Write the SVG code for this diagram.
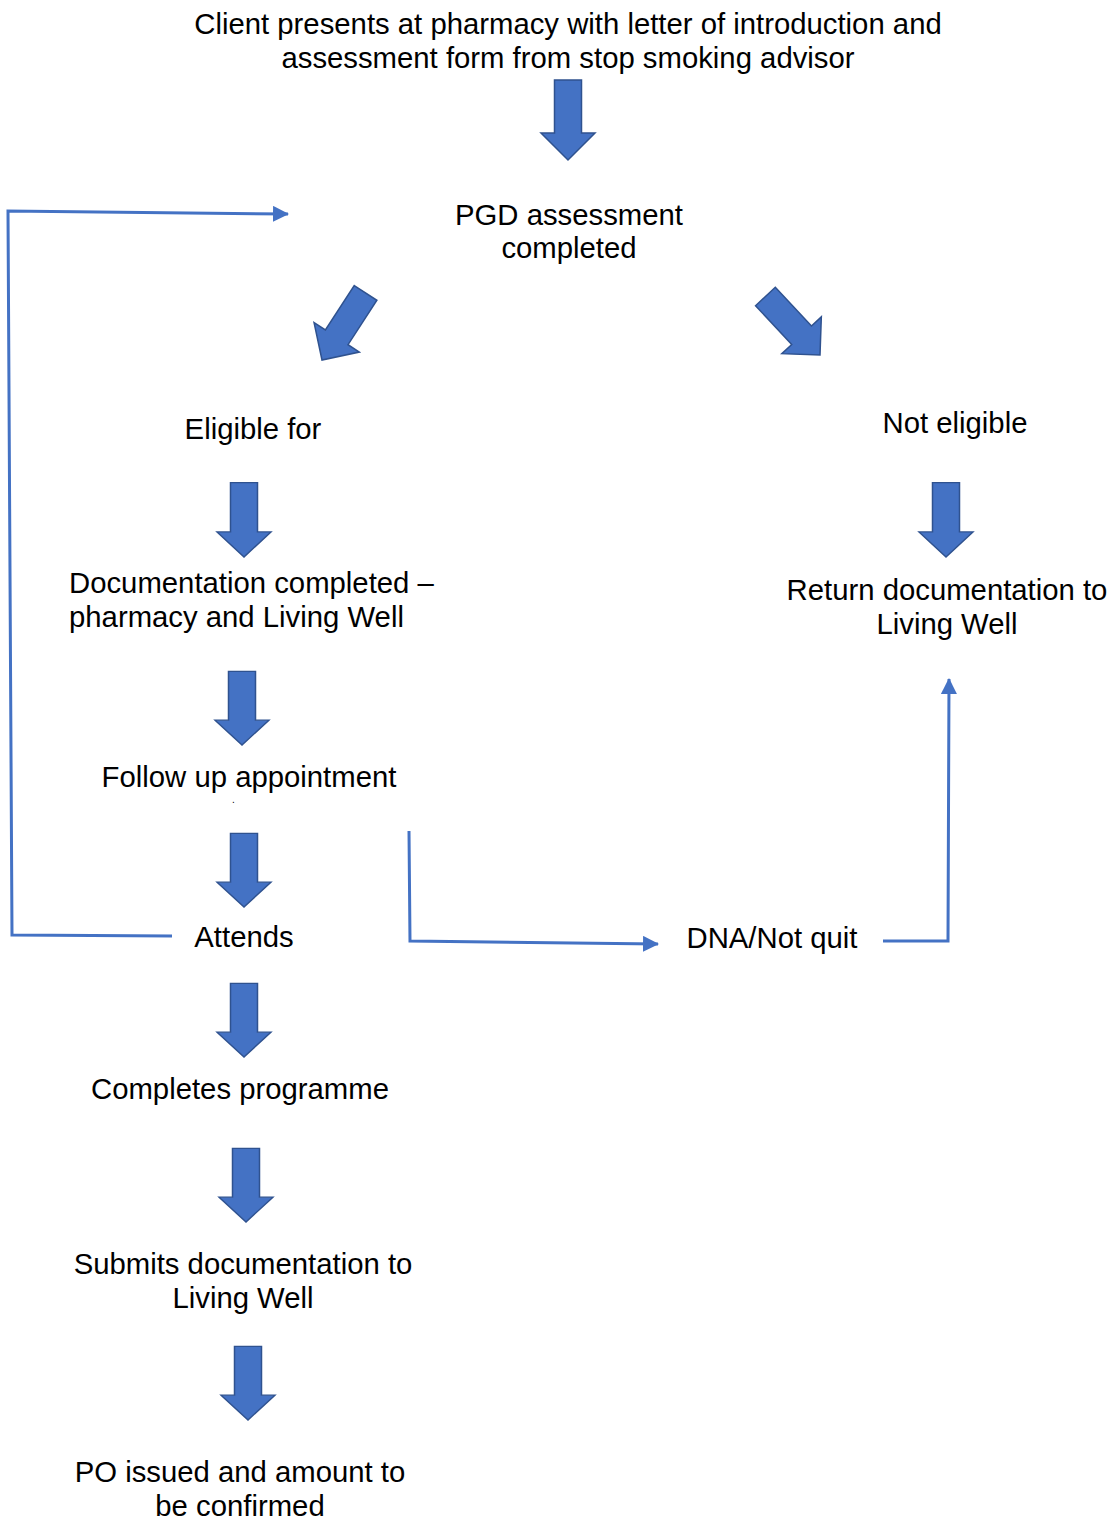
<svg xmlns="http://www.w3.org/2000/svg" width="1114" height="1520" viewBox="0 0 1114 1520">
<style>
text{font-family:"Liberation Sans",Arial,sans-serif;font-size:29.3px;fill:#000}
.c{text-anchor:middle}
.ba{fill:#4472C4;stroke:#2F528F;stroke-width:1.5;stroke-linejoin:miter}
.ln{fill:none;stroke:#4472C4;stroke-width:3}
</style>
<defs>
<path id="blk" d="M-13.5,-80 H13.5 V-27 H27 L0,0 L-27,-27 H-13.5 Z"/>
<marker id="ah" markerUnits="userSpaceOnUse" markerWidth="16" markerHeight="16" viewBox="0 0 16 16" refX="15" refY="8" orient="auto">
<path d="M0,0 L16,8 L0,16 Z" fill="#4472C4"/>
</marker>
</defs>
<rect width="1114" height="1520" fill="#fff"/>
<g id="arrows">
<use href="#blk" class="ba" transform="translate(568,160)"/>
<use href="#blk" class="ba" transform="translate(322,360) rotate(33)"/>
<use href="#blk" class="ba" transform="translate(820,355) rotate(-43)"/>
<use href="#blk" class="ba" transform="translate(244,557) scale(1,0.93)"/>
<use href="#blk" class="ba" transform="translate(946,557) scale(1,0.93)"/>
<use href="#blk" class="ba" transform="translate(242,745) scale(1,0.92)"/>
<use href="#blk" class="ba" transform="translate(244,907) scale(1,0.92)"/>
<use href="#blk" class="ba" transform="translate(244,1057) scale(1,0.92)"/>
<use href="#blk" class="ba" transform="translate(246,1222) scale(1,0.92)"/>
<use href="#blk" class="ba" transform="translate(248,1420) scale(1,0.92)"/>
</g>
<g id="connectors">
<polyline class="ln" points="172,936 12,935 8,211 288,214" marker-end="url(#ah)"/>
<polyline class="ln" points="409,831 410,941 658,944" marker-end="url(#ah)"/>
<polyline class="ln" points="883,941 948,941 949,679" marker-end="url(#ah)"/>
</g>
<g id="n-start"><text class="c" x="568" y="34">Client presents at pharmacy with letter of introduction and</text><text class="c" x="568" y="68">assessment form from stop smoking advisor</text></g>
<g id="n-pgd"><text class="c" x="569" y="225">PGD assessment</text><text class="c" x="569" y="258">completed</text></g>
<g id="n-eligible"><text class="c" x="253" y="439">Eligible for</text></g>
<g id="n-noteligible"><text class="c" x="955" y="433">Not eligible</text></g>
<g id="n-doc"><text x="69" y="593">Documentation completed –</text><text x="69" y="627">pharmacy and Living Well</text></g>
<g id="n-return"><text class="c" x="947" y="600">Return documentation to</text><text class="c" x="947" y="634">Living Well</text></g>
<g id="n-follow"><text class="c" x="249" y="787">Follow up appointment</text><text x="232" y="803" style="font-size:10px">.</text></g>
<g id="n-attends"><text class="c" x="244" y="947">Attends</text></g>
<g id="n-dna"><text class="c" x="772" y="948">DNA/Not quit</text></g>
<g id="n-completes"><text class="c" x="240" y="1099">Completes programme</text></g>
<g id="n-submits"><text class="c" x="243" y="1274">Submits documentation to</text><text class="c" x="243" y="1308">Living Well</text></g>
<g id="n-po"><text class="c" x="240" y="1482">PO issued and amount to</text><text class="c" x="240" y="1516">be confirmed</text></g>
</svg>
